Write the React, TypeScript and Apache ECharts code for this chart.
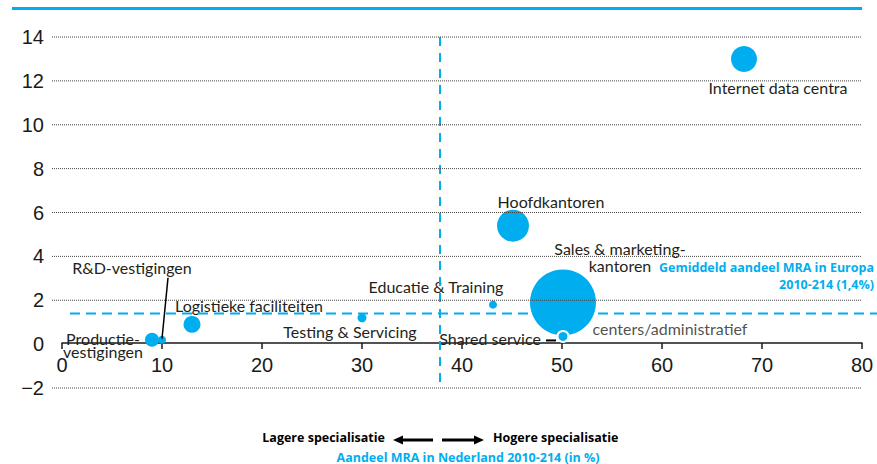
import React, { useEffect, useRef } from "react";
import * as echarts from "echarts";

// Data
const categories = [
  "Productie-vestigingen",
  "R&D-vestigingen",
  "Logistieke faciliteiten",
  "Testing & Servicing",
  "Educatie & Training",
  "Hoofdkantoren",
  "Sales & marketing-kantoren",
  "Shared service centers/administratief",
  "Internet data centra",
];
// Aandeel MRA in Nederland (x, %) and share in Europe (y, %)
const shareNL = [9.0, 10.0, 13.0, 30.0, 43.1, 45.1, 50.1, 50.1, 68.2];
const shareEU = [0.2, 0.2, 0.9, 1.2, 1.8, 5.4, 1.9, 0.35, 13.0];
// bubble weight (area units)
const bubbleWeight = [49, 16, 72, 20, 16, 256, 1089, 30, 169];

const xTicks = [0, 10, 20, 30, 40, 50, 60, 70, 80];
const yTicks = [-2, 0, 2, 4, 6, 8, 10, 12, 14];
const avgEurope = 1.4;
const splitNL = 37.8;

// label texts & placement (styling)
const labelTexts = [
  "Productie-\nvestigingen",
  "R&D-vestigingen",
  "Logistieke faciliteiten",
  "Testing & Servicing",
  "Educatie & Training",
  "Hoofdkantoren",
  "Sales & marketing-\nkantoren",
  "Shared service",
  "Internet data centra",
];
const labelOffsets = [
  [-49, 5],
  [-30, -72],
  [57, -19],
  [-12, 14],
  [-57, -18],
  [38, -24],
  [57, -45],
  [-73, 2],
  [34, 29],
];
const labelLineHeights = [13, 16, 16, 16, 16, 16, 17, 16, 16];
const sharedIndex = 7;
const sharedSecondText = "centers/administratief";
const sharedSecondOffset = [107, -8];
const rdIndex = 1;

const CYAN = "#00AEEF";
const TEXT = "#231f20";
const LABEL_FONT = "Lato, 'Noto Sans', sans-serif";
const BOLD_FONT = "bold 12.5px 'Open Sans', 'Noto Sans', sans-serif";

export default function App() {
  const ref = useRef<HTMLDivElement>(null);

  useEffect(() => {
    if (!ref.current) return;
    document.body.style.margin = "0";
    const chart = echarts.init(ref.current, null, { renderer: "svg" });

    const option: any = {
      animation: false,
      grid: { left: 62, right: 15, top: 37, bottom: 76 },
      xAxis: {
        type: "value",
        min: 0,
        max: 80,
        interval: 10,
        offset: -45,
        axisLine: { onZero: false, lineStyle: { color: "#1a1a1a", width: 1.5 } },
        axisTick: { show: true, length: 6, lineStyle: { color: "#1a1a1a", width: 1.5 } },
        axisLabel: {
          fontSize: 20,
          color: "#1a1a1a",
          margin: 12,
          fontFamily: "'Liberation Sans', Arial, sans-serif",
        },
        splitLine: { show: false },
      },
      yAxis: {
        type: "value",
        min: -2,
        max: 14,
        interval: 2,
        axisLine: { show: false },
        axisTick: { show: false },
        splitLine: { show: false },
        axisLabel: {
          fontSize: 20,
          color: "#1a1a1a",
          margin: 18,
          fontFamily: "'Liberation Sans', Arial, sans-serif",
          formatter: (v: number) => (v < 0 ? "\u2212" + Math.abs(v) : String(v)),
        },
      },
      series: [
        {
          type: "scatter",
          clip: false,
          z: 2,
          data: categories.map((name, i) => {
            const item: any = {
              name,
              value: [shareNL[i], shareEU[i], bubbleWeight[i]],
              symbolSize: 2 * Math.sqrt(bubbleWeight[i]),
              label: { formatter: labelTexts[i], lineHeight: labelLineHeights[i] },
            };
            if (i === sharedIndex) {
              item.itemStyle = { color: CYAN, borderColor: "#fff", borderWidth: 2 };
            }
            return item;
          }),
          itemStyle: { color: CYAN, opacity: 1 },
          label: {
            show: true,
            position: "inside",
            align: "center",
            verticalAlign: "middle",
            color: TEXT,
            fontSize: 16,
            fontFamily: LABEL_FONT,
          },
          labelLayout: (p: any) => {
            if (p.seriesIndex !== 0) return {};
            const o = labelOffsets[p.dataIndex];
            return { dx: o[0], dy: o[1] };
          },
          emphasis: { disabled: true },
        },
        {
          type: "scatter",
          clip: false,
          z: 1,
          data: [[shareNL[sharedIndex], shareEU[sharedIndex]]],
          symbolSize: 1,
          itemStyle: { color: "transparent" },
          label: {
            show: true,
            position: "inside",
            align: "center",
            verticalAlign: "middle",
            color: TEXT,
            fontSize: 16,
            fontFamily: LABEL_FONT,
            formatter: sharedSecondText,
            offset: sharedSecondOffset,
          },
          markLine: {
            silent: true,
            symbol: "none",
            label: { show: false },
            emphasis: { disabled: true },
            data: [
              [
                { coord: [splitNL, 14], lineStyle: { type: [9, 7], color: CYAN, width: 2 } },
                { coord: [splitNL, -2] },
              ],
            ],
          },
          emphasis: { disabled: true },
        },
      ],
    };

    chart.setOption(option);

    const px = (x: number, y: number) =>
      chart.convertToPixel({ gridIndex: 0 }, [x, y]) as number[];

    const graphics: any[] = [];
    // dotted horizontal gridlines (drawn over the bubbles, as in the reference)
    yTicks.forEach((v) => {
      if (v === 0) return;
      const a = px(-1, v);
      const b = px(xTicks[xTicks.length - 1], v);
      graphics.push({
        type: "line",
        z: 10,
        silent: true,
        shape: { x1: a[0], y1: a[1], x2: b[0], y2: b[1] },
        style: { stroke: "#444", lineWidth: 1, lineDash: [1, 1] },
      });
    });
    // average Europe dashed line
    {
      const a = px(0.8, avgEurope);
      const b = px(81.5, avgEurope);
      graphics.push({
        type: "line",
        z: 9,
        silent: true,
        shape: { x1: a[0], y1: a[1], x2: b[0], y2: b[1] },
        style: { stroke: CYAN, lineWidth: 2, lineDash: [10, 6] },
      });
    }
    // R&D leader line
    {
      const c = px(shareNL[rdIndex], shareEU[rdIndex]);
      graphics.push({
        type: "line",
        z: 10,
        silent: true,
        shape: { x1: c[0], y1: c[1] - 1, x2: c[0] + 6, y2: c[1] - 62 },
        style: { stroke: "#000", lineWidth: 1.5 },
      });
    }
    // Shared service leader dash
    {
      const c = px(shareNL[sharedIndex], shareEU[sharedIndex]);
      graphics.push({
        type: "line",
        z: 10,
        silent: true,
        shape: { x1: c[0] - 17, y1: c[1] + 4, x2: c[0] - 7, y2: c[1] + 4 },
        style: { stroke: "#000", lineWidth: 2 },
      });
    }
    graphics.push(
      {
        type: "rect",
        shape: { x: 12, y: 7, width: 850, height: 3 },
        style: { fill: CYAN },
      },
      {
        type: "text",
        x: 874,
        y: 276,
        style: {
          text: "Gemiddeld aandeel MRA in Europa\n2010-214 (1,4%)",
          fill: CYAN,
          font: BOLD_FONT,
          align: "right",
          verticalAlign: "middle",
          lineHeight: 17,
        },
      },
      {
        type: "text",
        x: 385,
        y: 437,
        style: {
          text: "Lagere specialisatie",
          fill: "#000",
          font: BOLD_FONT,
          align: "right",
          verticalAlign: "middle",
        },
      },
      {
        type: "text",
        x: 493,
        y: 437,
        style: {
          text: "Hogere specialisatie",
          fill: "#000",
          font: BOLD_FONT,
          align: "left",
          verticalAlign: "middle",
        },
      },
      {
        type: "line",
        shape: { x1: 400, y1: 440, x2: 433, y2: 440 },
        style: { stroke: "#000", lineWidth: 3 },
      },
      {
        type: "polygon",
        shape: { points: [[393, 440], [403, 435.5], [403, 444.5]] },
        style: { fill: "#000" },
      },
      {
        type: "line",
        shape: { x1: 442, y1: 440, x2: 476, y2: 440 },
        style: { stroke: "#000", lineWidth: 3 },
      },
      {
        type: "polygon",
        shape: { points: [[484, 440], [474, 435.5], [474, 444.5]] },
        style: { fill: "#000" },
      },
      {
        type: "text",
        x: 468,
        y: 457,
        style: {
          text: "Aandeel MRA in Nederland 2010-214 (in %)",
          fill: CYAN,
          font: BOLD_FONT,
          align: "center",
          verticalAlign: "middle",
        },
      }
    );

    chart.setOption({ graphic: graphics });
    return () => chart.dispose();
  }, []);

  return <div ref={ref} style={{ width: 877, height: 464 }} />;
}
